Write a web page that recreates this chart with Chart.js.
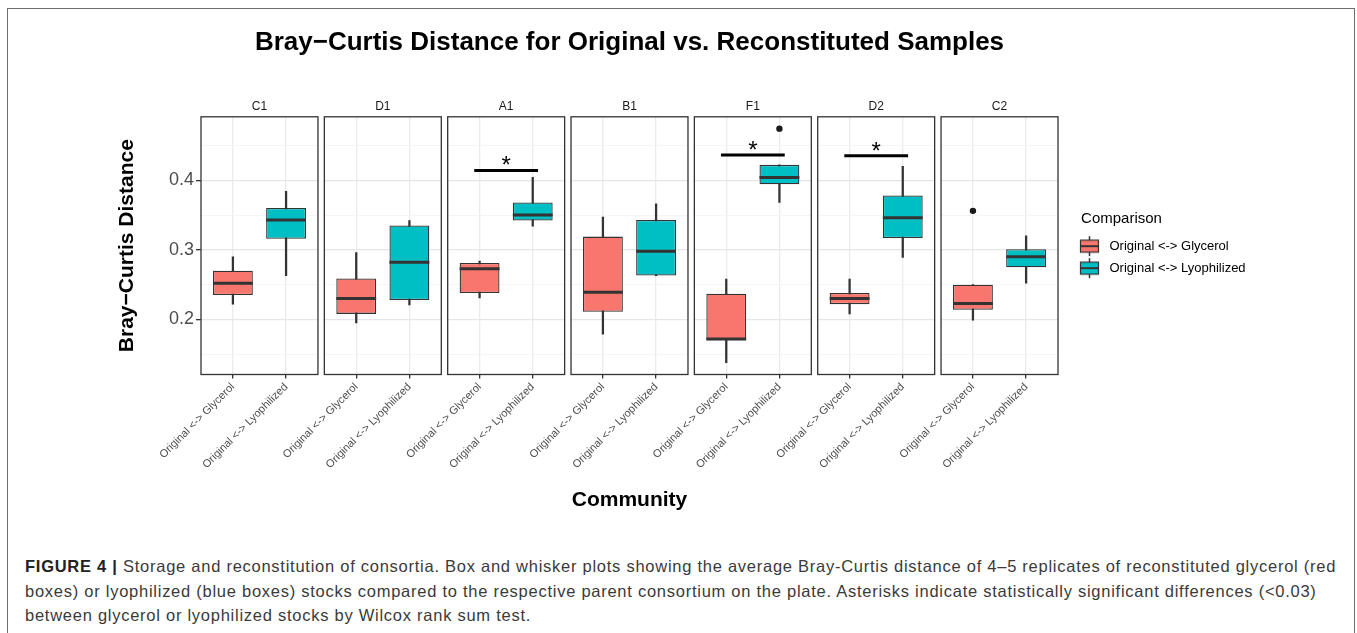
<!DOCTYPE html>
<html>
<head>
<meta charset="utf-8">
<script src="https://cdn.jsdelivr.net/npm/chart.js@4.4.1/dist/chart.umd.min.js"></script>
<style>
  html, body { margin: 0; padding: 0; background: #fff; overflow: hidden; }
  body { width: 1357px; height: 633px; position: relative; font-family: 'Liberation Sans', Arial, sans-serif; }
  #frame { position: absolute; left: 7px; top: 8px; width: 1345.5px; height: 700px; border: 1.5px solid #6e6e6e; border-bottom: none; }
  #chart { position: absolute; left: 0; top: 0; }
  #caption { position: absolute; left: 25px; top: 554px; font-size: 16.5px; letter-spacing: 0.74px; line-height: 24.5px; color: #3a3a3a; white-space: nowrap; }
  #caption b { color: #222; }
</style>
</head>
<body>
<div id="frame"></div>
<canvas id="chart" width="1357" height="530"></canvas>
<div id="caption"><b>FIGURE 4 |</b> Storage and reconstitution of consortia. Box and whisker plots showing the average Bray-Curtis distance of 4–5 replicates of reconstituted glycerol (red<br>boxes) or lyophilized (blue boxes) stocks compared to the respective parent consortium on the plate. Asterisks indicate statistically significant differences (&lt;0.03)<br>between glycerol or lyophilized stocks by Wilcox rank sum test.</div>
<script>
const communities = ['C1', 'D1', 'A1', 'B1', 'F1', 'D2', 'C2'];
const comparisons = ['Original <-> Glycerol', 'Original <-> Lyophilized'];

// Original <-> Glycerol, one value per community
const glycerolMin    = [0.222, 0.195, 0.231, 0.179, 0.138, 0.208, 0.199];
const glycerolQ1     = [0.235, 0.208, 0.238, 0.211, 0.170, 0.222, 0.214];
const glycerolMedian = [0.252, 0.230, 0.273, 0.239, 0.172, 0.230, 0.223];
const glycerolQ3     = [0.270, 0.259, 0.281, 0.319, 0.237, 0.238, 0.250];
const glycerolMax    = [0.290, 0.296, 0.284, 0.347, 0.258, 0.258, 0.250];

// Original <-> Lyophilized
const lyophilizedMin    = [0.263, 0.221, 0.334, 0.263, 0.368, 0.289, 0.252];
const lyophilizedQ1     = [0.316, 0.228, 0.342, 0.263, 0.394, 0.317, 0.275];
const lyophilizedMedian = [0.343, 0.282, 0.350, 0.298, 0.404, 0.346, 0.290];
const lyophilizedQ3     = [0.360, 0.335, 0.368, 0.343, 0.422, 0.378, 0.301];
const lyophilizedMax    = [0.384, 0.342, 0.404, 0.366, 0.422, 0.420, 0.320];

const outlierCommunity  = ['F1', 'C2'];
const outlierComparison = [1, 0];
const outlierValue      = [0.474, 0.356];

const signifCommunity = ['A1', 'F1', 'D2'];
const signifHeight    = [0.414, 0.436, 0.435];

const yMajorTicks = [0.2, 0.3, 0.4];
const yMinorTicks = [0.15, 0.25, 0.35, 0.45];

const RED = '#F8766D';
const TEAL = '#00BFC4';
const DARK = '#333333';

// facet geometry in x-axis units (ggplot: 2 levels, 0.6 expansion each side)
const PANEL = 2.2;
const GAP = 0.12;
const LEVEL = [0.6, 1.6];
const xMax = communities.length * PANEL + (communities.length - 1) * GAP;

function panelStart(i) { return i * (PANEL + GAP); }
function levelX(i, j) { return panelStart(i) + LEVEL[j]; }
function isMajor(v) { return yMajorTicks.some(t => Math.abs(t - v) < 1e-9); }

const xTicks = [];
communities.forEach((c, i) => LEVEL.forEach((l, j) => xTicks.push(levelX(i, j))));

function rangeData(j, lo, hi) {
    return communities.map((c, i) => ({x: levelX(i, j), y: [lo[i], hi[i]]}));
}

function boxKey(fill) {
    const c = document.createElement('canvas');
    c.width = 36;
    c.height = 24;
    const g = c.getContext('2d');
    const cx = 22.5, cy = 12;
    g.strokeStyle = DARK;
    g.lineWidth = 1.5;
    g.beginPath(); g.moveTo(cx, 2); g.lineTo(cx, 22); g.stroke();
    g.fillStyle = fill;
    g.fillRect(cx - 9, cy - 6, 18, 12);
    g.lineWidth = 1.2;
    g.strokeRect(cx - 9, cy - 6, 18, 12);
    g.lineWidth = 2;
    g.beginPath(); g.moveTo(cx - 9, cy); g.lineTo(cx + 9, cy); g.stroke();
    return c;
}

const medians = [glycerolMedian, lyophilizedMedian];

const facetPlugin = {
    id: 'facets',
    afterLayout(chart) {
        // legend keeps its narrow width (title centring) but must not clip the labels
        chart.legend.right = chart.width;
    },
    beforeDatasetsDraw(chart) {
        // white gutters between the panels
        const {ctx, chartArea: a, scales: {x}} = chart;
        ctx.save();
        ctx.fillStyle = '#ffffff';
        for (let i = 0; i < communities.length - 1; i++) {
            const x0 = x.getPixelForValue(panelStart(i) + PANEL);
            const x1 = x.getPixelForValue(panelStart(i + 1));
            ctx.fillRect(x0, a.top - 1, x1 - x0, a.bottom - a.top + 2);
        }
        ctx.restore();
    },
    afterDatasetsDraw(chart) {
        const {ctx, chartArea: a, scales: {x, y}} = chart;
        ctx.save();

        // medians
        ctx.strokeStyle = DARK;
        ctx.lineWidth = 3;
        [2, 3].forEach((dsIndex, j) => {
            chart.getDatasetMeta(dsIndex).data.forEach((el, i) => {
                const py = y.getPixelForValue(medians[j][i]);
                ctx.beginPath();
                ctx.moveTo(el.x - el.width / 2, py);
                ctx.lineTo(el.x + el.width / 2, py);
                ctx.stroke();
            });
        });

        // panel borders and strip labels
        ctx.lineWidth = 1.3;
        ctx.strokeStyle = DARK;
        ctx.fillStyle = '#1a1a1a';
        ctx.font = "12px 'Liberation Sans', Arial, sans-serif";
        ctx.textAlign = 'center';
        ctx.textBaseline = 'middle';
        communities.forEach((c, i) => {
            const x0 = x.getPixelForValue(panelStart(i));
            const x1 = x.getPixelForValue(panelStart(i) + PANEL);
            ctx.strokeRect(x0, a.top, x1 - x0, a.bottom - a.top);
            ctx.fillText(c, (x0 + x1) / 2, a.top - 10);
        });

        // significance brackets
        ctx.strokeStyle = '#000';
        ctx.fillStyle = '#000';
        ctx.lineWidth = 3;
        ctx.font = "24px 'Liberation Sans', Arial, sans-serif";
        ctx.textBaseline = 'alphabetic';
        signifCommunity.forEach((c, k) => {
            const i = communities.indexOf(c);
            const x0 = x.getPixelForValue(levelX(i, 0) - 0.1);
            const x1 = x.getPixelForValue(levelX(i, 1) + 0.1);
            const py = y.getPixelForValue(signifHeight[k]);
            ctx.beginPath();
            ctx.moveTo(x0, py);
            ctx.lineTo(x1, py);
            ctx.stroke();
            ctx.fillText('*', (x0 + x1) / 2, py + 3);
        });
        ctx.restore();
    }
};

Chart.defaults.font.family = "'Liberation Sans', Arial, sans-serif";

new Chart(document.getElementById('chart'), {
    type: 'bar',
    data: {
        datasets: [
            {
                label: 'glycerol whiskers',
                data: rangeData(0, glycerolMin, glycerolMax),
                backgroundColor: DARK,
                borderWidth: 0,
                barThickness: 1.6,
                grouped: false,
                order: 3
            },
            {
                label: 'lyophilized whiskers',
                data: rangeData(1, lyophilizedMin, lyophilizedMax),
                backgroundColor: DARK,
                borderWidth: 0,
                barThickness: 1.6,
                grouped: false,
                order: 3
            },
            {
                label: comparisons[0],
                data: rangeData(0, glycerolQ1, glycerolQ3),
                backgroundColor: RED,
                borderColor: DARK,
                borderWidth: 1.3,
                borderSkipped: false,
                grouped: false,
                categoryPercentage: 1,
                barPercentage: 0.75,
                order: 2
            },
            {
                label: comparisons[1],
                data: rangeData(1, lyophilizedQ1, lyophilizedQ3),
                backgroundColor: TEAL,
                borderColor: DARK,
                borderWidth: 1.3,
                borderSkipped: false,
                grouped: false,
                categoryPercentage: 1,
                barPercentage: 0.75,
                order: 2
            },
            {
                type: 'scatter',
                label: 'outliers',
                data: outlierValue.map((v, k) => ({
                    x: levelX(communities.indexOf(outlierCommunity[k]), outlierComparison[k]),
                    y: v
                })),
                backgroundColor: '#1a1a1a',
                borderWidth: 0,
                pointRadius: 3.2,
                order: 1
            }
        ]
    },
    options: {
        responsive: false,
        animation: false,
        events: [],
        layout: {padding: {left: 100, right: 172, top: 0, bottom: 0}},
        plugins: {
            title: {
                display: true,
                fullSize: false,
                text: 'Bray−Curtis Distance for Original vs. Reconstituted Samples',
                color: '#000',
                font: {size: 26, weight: 'bold'},
                padding: {top: 27, bottom: 58.6}
            },
            legend: {
                position: 'right',
                fullSize: false,
                align: 'center',
                maxWidth: 127,
                title: {
                    display: true,
                    text: 'Comparison',
                    position: 'center',
                    color: '#000',
                    font: {size: 15},
                    padding: {top: 4, bottom: 1}
                },
                labels: {
                    usePointStyle: true,
                    pointStyleWidth: 36,
                    padding: 9,
                    color: '#1a1a1a',
                    font: {size: 13},
                    generateLabels: () => [
                        {text: comparisons[0], pointStyle: boxKey(RED), datasetIndex: 2, hidden: false, lineWidth: 0},
                        {text: comparisons[1], pointStyle: boxKey(TEAL), datasetIndex: 3, hidden: false, lineWidth: 0}
                    ]
                }
            },
            tooltip: {enabled: false}
        },
        scales: {
            x: {
                type: 'linear',
                min: 0,
                max: xMax,
                offset: false,
                afterBuildTicks: s => { s.ticks = xTicks.map(v => ({value: v})); },
                afterFit: s => { s.height = 155.5; s.paddingLeft = 0; s.paddingRight = 0; },
                grid: {offset: false, color: '#ebebeb', lineWidth: 1.3, tickLength: 4, tickColor: DARK, tickWidth: 1.3},
                border: {display: false},
                ticks: {
                    autoSkip: false,
                    minRotation: 45,
                    maxRotation: 45,
                    padding: 2,
                    color: '#4d4d4d',
                    font: {size: 11},
                    callback: (v, i) => comparisons[i % 2]
                },
                title: {
                    display: true,
                    text: 'Community',
                    color: '#000',
                    font: {size: 21, weight: 'bold'},
                    padding: {top: 0, bottom: 17}
                }
            },
            y: {
                min: 0.121,
                max: 0.491,
                afterBuildTicks: s => {
                    s.ticks = yMinorTicks.concat(yMajorTicks).sort((a, b) => a - b).map(v => ({value: v}));
                },
                afterFit: s => { s.width = 101; },
                grid: {
                    color: c => (c.tick && isMajor(c.tick.value)) ? '#e6e6e6' : '#f2f2f2',
                    lineWidth: c => (c.tick && isMajor(c.tick.value)) ? 1.3 : 0.8,
                    tickLength: 5,
                    tickColor: c => (c.tick && isMajor(c.tick.value)) ? DARK : 'rgba(0,0,0,0)',
                    tickWidth: 1.3
                },
                border: {display: false},
                ticks: {
                    callback: v => isMajor(v) ? v.toFixed(1) : '',
                    color: '#4d4d4d',
                    font: {size: 18},
                    padding: 2
                },
                title: {
                    display: true,
                    text: 'Bray−Curtis Distance',
                    color: '#000',
                    font: {size: 21, weight: 'bold'},
                    padding: {top: 15, bottom: 0}
                }
            }
        }
    },
    plugins: [facetPlugin]
});
</script>
</body>
</html>
